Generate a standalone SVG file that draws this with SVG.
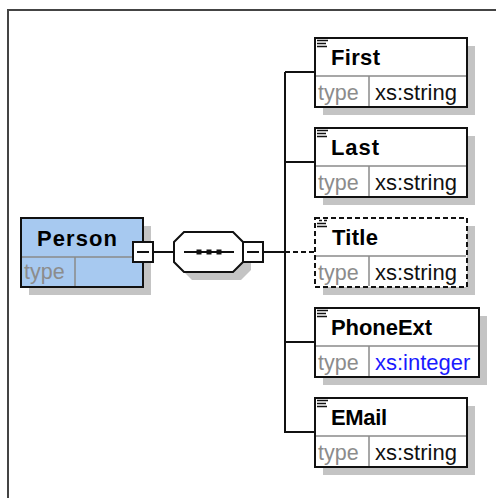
<svg xmlns="http://www.w3.org/2000/svg" width="496" height="498" viewBox="0 0 496 498">
<style>
.shadow{fill:#c4c4c4;stroke:none}
.box{fill:#fff;stroke:#111;stroke-width:2}
.dash{stroke-dasharray:5,3}
.div{stroke:#8a8a8a;stroke-width:1.5;fill:none}
.conn{stroke:#111;stroke-width:2;fill:none}
.name{font-family:"Liberation Sans",Arial,sans-serif;font-weight:bold;font-size:22px;fill:#000}
.lbl{font-family:"Liberation Sans",Arial,sans-serif;font-size:21.5px;fill:#8c8c8c}
.val{font-family:"Liberation Sans",Arial,sans-serif;font-size:22px;fill:#111}
.blue{fill:#1a1aff}
.icon{stroke:#111;stroke-width:1.6}
</style>
<rect width="496" height="498" fill="#fff"/>
<path d="M8,498 V10 H496" fill="none" stroke="#444" stroke-width="2"/>

<g id="connectors">
<line class="conn" x1="153" y1="252" x2="174" y2="252"/>
<line class="conn" x1="263" y1="252" x2="285" y2="252"/>
<line class="conn" x1="285" y1="72" x2="285" y2="433"/>
<line class="conn" x1="285" y1="72" x2="315" y2="72"/>
<line class="conn" x1="285" y1="162" x2="315" y2="162"/>
<line class="conn dash" x1="285" y1="252" x2="315" y2="252"/>
<line class="conn" x1="285" y1="342" x2="315" y2="342"/>
<line class="conn" x1="285" y1="432" x2="315" y2="432"/>
</g>

<g id="Person">
<rect class="shadow" x="29" y="226" width="122" height="69"/>
<rect x="21" y="218" width="122" height="69" fill="#a7c9f0" stroke="#111" stroke-width="2"/>
<line class="div" x1="22" y1="257" x2="142" y2="257"/>
<line class="div" x1="75" y1="257" x2="75" y2="286"/>
<text class="name" x="37" y="246" font-size="23" textLength="80" lengthAdjust="spacing">Person</text>
<text class="lbl" x="24" y="279">type</text>
<rect x="133" y="242" width="20" height="20" fill="#fff" stroke="#111" stroke-width="2"/>
<line x1="137" y1="252" x2="149" y2="252" stroke="#111" stroke-width="2"/>
</g>

<g id="sequence">
<polygon class="shadow" points="182,250 192,240 241,240 251,250 251,270 241,280 192,280 182,270"/>
<polygon class="box" points="174,242 184,232 233,232 243,242 243,262 233,272 184,272 174,262"/>
<line x1="184" y1="252" x2="234" y2="252" stroke="#111" stroke-width="2"/>
<rect x="196.5" y="249.5" width="5" height="5" fill="#111"/>
<rect x="206.5" y="249.5" width="5" height="5" fill="#111"/>
<rect x="216.5" y="249.5" width="5" height="5" fill="#111"/>
<rect x="243" y="242" width="20" height="20" fill="#fff" stroke="#111" stroke-width="2"/>
<line x1="247" y1="252" x2="259" y2="252" stroke="#111" stroke-width="2"/>
</g>

<g id="First">
<rect class="shadow" x="323" y="46" width="152" height="69"/>
<rect class="box" x="315" y="38" width="152" height="69"/>
<line class="div" x1="316" y1="76" x2="466" y2="76"/>
<line class="div" x1="369" y1="76" x2="369" y2="106"/>
<path class="icon" d="M317,40.5H328M317,43.5H326M317,46.5H327"/>
<text class="name" x="331" y="65" textLength="49" lengthAdjust="spacing">First</text>
<text class="lbl" x="318" y="100">type</text>
<text class="val" x="375" y="100">xs:string</text>
</g>

<g id="Last">
<rect class="shadow" x="323" y="136" width="152" height="69"/>
<rect class="box" x="315" y="128" width="152" height="69"/>
<line class="div" x1="316" y1="166" x2="466" y2="166"/>
<line class="div" x1="369" y1="166" x2="369" y2="196"/>
<path class="icon" d="M317,130.5H328M317,133.5H326M317,136.5H327"/>
<text class="name" x="331" y="155" textLength="48" lengthAdjust="spacing">Last</text>
<text class="lbl" x="318" y="190">type</text>
<text class="val" x="375" y="190">xs:string</text>
</g>

<g id="Title">
<rect class="shadow" x="323" y="226" width="152" height="69"/>
<rect class="box dash" x="315" y="218" width="152" height="69"/>
<line class="div" x1="316" y1="256" x2="466" y2="256"/>
<line class="div" x1="369" y1="256" x2="369" y2="286"/>
<path class="icon" d="M319,220.5H322M324,220.5H327M317,223.5H326M317,226.5H327"/>
<text class="name" x="332" y="245" textLength="46" lengthAdjust="spacing">Title</text>
<text class="lbl" x="318" y="280">type</text>
<text class="val" x="375" y="280">xs:string</text>
</g>

<g id="PhoneExt">
<rect class="shadow" x="323" y="316" width="164" height="69"/>
<rect class="box" x="315" y="308" width="164" height="69"/>
<line class="div" x1="316" y1="346" x2="478" y2="346"/>
<line class="div" x1="369" y1="346" x2="369" y2="376"/>
<path class="icon" d="M317,310.5H328M317,313.5H326M317,316.5H327"/>
<text class="name" x="331" y="335" textLength="101" lengthAdjust="spacing">PhoneExt</text>
<text class="lbl" x="318" y="370">type</text>
<text class="val blue" x="375" y="370">xs:integer</text>
</g>

<g id="EMail">
<rect class="shadow" x="323" y="406" width="152" height="69"/>
<rect class="box" x="315" y="398" width="152" height="69"/>
<line class="div" x1="316" y1="436" x2="466" y2="436"/>
<line class="div" x1="369" y1="436" x2="369" y2="466"/>
<path class="icon" d="M317,400.5H328M317,403.5H326M317,406.5H327"/>
<text class="name" x="331" y="425" textLength="56" lengthAdjust="spacing">EMail</text>
<text class="lbl" x="318" y="460">type</text>
<text class="val" x="375" y="460">xs:string</text>
</g>
</svg>
